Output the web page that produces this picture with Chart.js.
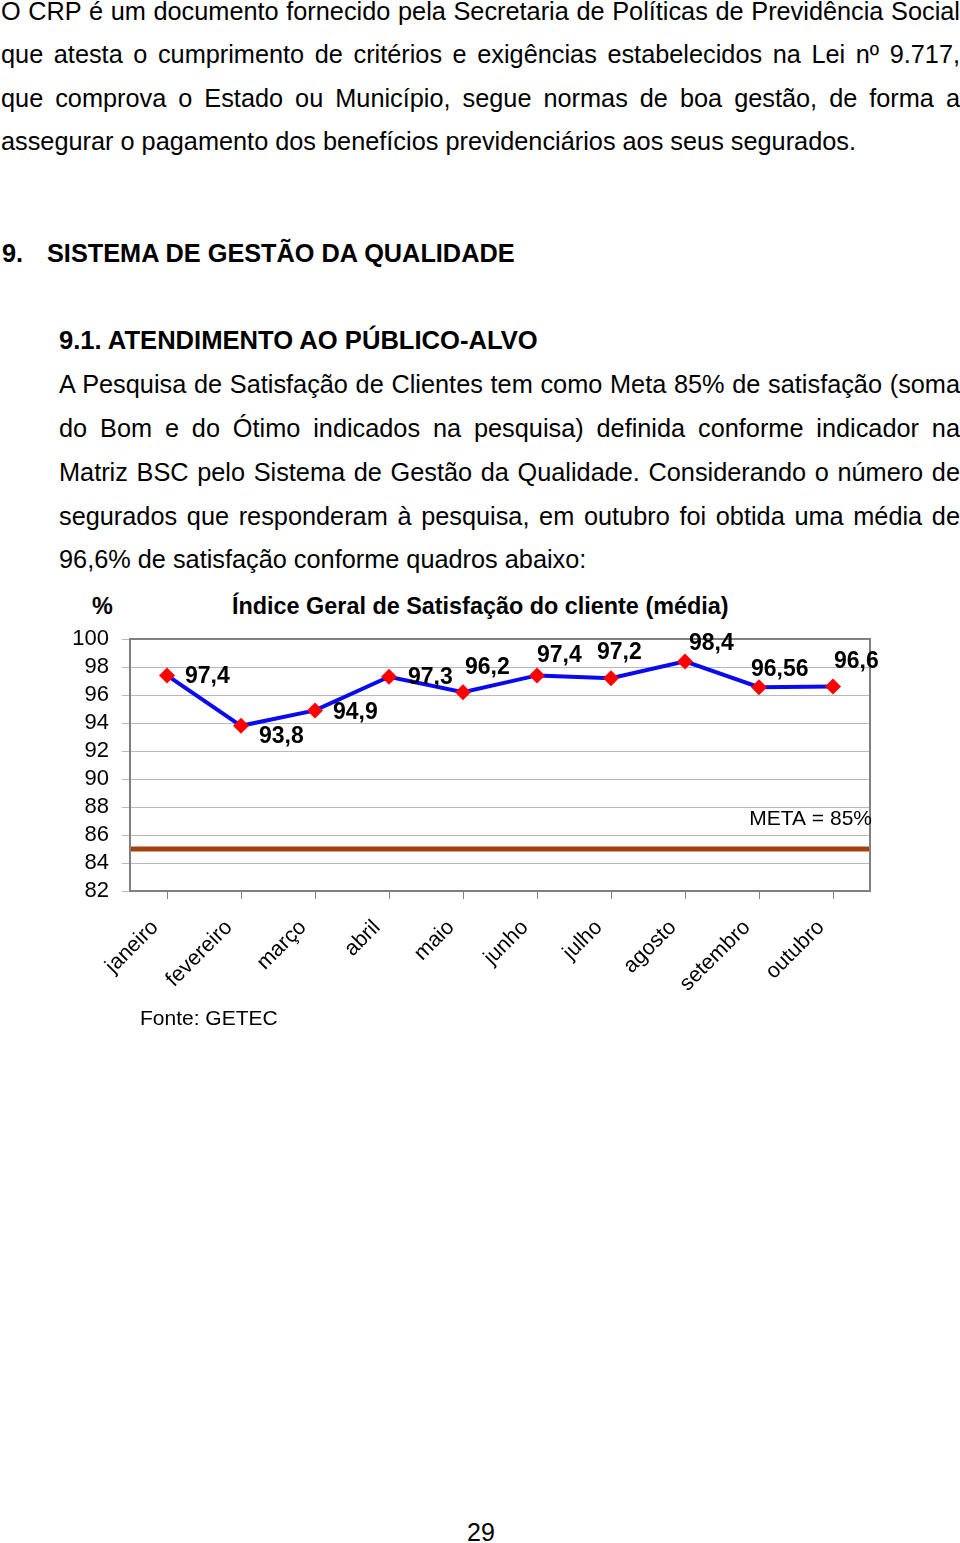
<!DOCTYPE html>
<html><head><meta charset="utf-8">
<script src="https://cdn.jsdelivr.net/npm/chart.js@4.4.1/dist/chart.umd.min.js"></script>
<style>
html,body{margin:0;padding:0;background:#fff;}
body{width:960px;height:1543px;position:relative;overflow:hidden;font-family:"Liberation Sans",Arial,sans-serif;color:#000;}
.t{position:absolute;white-space:nowrap;}
.p{position:absolute;font-size:25.3px;}
.p div{text-align:justify;text-align-last:justify;}
.p div.last{text-align:left;text-align-last:left;}
.b{font-weight:bold;}
canvas{position:absolute;left:0;top:580px;}
</style></head>
<body>
<div class="p" style="left:1px;top:-10px;width:959px;line-height:43.4px;">
<div>O CRP é um documento fornecido pela Secretaria de Políticas de Previdência Social</div>
<div>que atesta o cumprimento de critérios e exigências estabelecidos na Lei nº 9.717,</div>
<div>que comprova o Estado ou Município, segue normas de boa gestão, de forma a</div>
<div class="last">assegurar o pagamento dos benefícios previdenciários aos seus segurados.</div>
</div>
<div class="t b" style="left:2px;top:232.4px;font-size:25.3px;line-height:43.5px;">9.</div>
<div class="t b" style="left:47px;top:232.4px;font-size:25.3px;line-height:43.5px;">SISTEMA DE GESTÃO DA QUALIDADE</div>
<div class="t b" style="left:59px;top:319.4px;font-size:25.6px;line-height:43.5px;">9.1. ATENDIMENTO AO PÚBLICO-ALVO</div>
<div class="p" style="left:59px;top:363.4px;width:901px;line-height:43.75px;">
<div>A Pesquisa de Satisfação de Clientes tem como Meta 85% de satisfação (soma</div>
<div>do Bom e do Ótimo indicados na pesquisa) definida conforme indicador na</div>
<div>Matriz BSC pelo Sistema de Gestão da Qualidade. Considerando o número de</div>
<div>segurados que responderam à pesquisa, em outubro foi obtida uma média de</div>
<div class="last">96,6% de satisfação conforme quadros abaixo:</div>
</div>
<div class="t b" style="left:92px;top:594.5px;font-size:23.4px;line-height:23.4px;">%</div>
<div class="t b" style="left:232px;top:594.5px;font-size:23.4px;line-height:23.4px;">Índice Geral de Satisfação do cliente (média)</div>
<canvas id="c" width="960" height="440" style="width:960px;height:440px;"></canvas>
<div class="t" style="left:140px;top:1006.7px;font-size:21px;line-height:21px;">Fonte: GETEC</div>
<div class="t" style="left:467px;top:1519.8px;font-size:25px;line-height:25px;">29</div>
<script>
const months = ['janeiro','fevereiro','março','abril','maio','junho','julho','agosto','setembro','outubro'];
const satisfacao = [97.4, 93.8, 94.9, 97.3, 96.2, 97.4, 97.2, 98.4, 96.56, 96.6];
const meta = 85;
const metaLabel = 'META = 85%';
const yMin = 82, yMax = 100, yStep = 2;
// label placement offsets (dx, dy) relative to each point
const labelOffsets = [[18,1],[18,11],[18,2],[19,1],[2,-25],[0,-20],[-14,-26],[4,-18],[-8,-18],[1,-25]];

Chart.defaults.font.family = '"Liberation Sans", Arial, sans-serif';
Chart.defaults.color = '#000';

const extras = {
  id: 'extras',
  afterDatasetsDraw(chart) {
    const {ctx, chartArea: a, scales: {y}} = chart;
    ctx.save();
    ctx.strokeStyle = '#808080';
    ctx.lineWidth = 2;
    ctx.strokeRect(a.left, a.top, a.right - a.left, a.bottom - a.top);
    ctx.font = '21px "Liberation Sans", Arial, sans-serif';
    ctx.fillStyle = '#000';
    ctx.textAlign = 'right';
    ctx.textBaseline = 'middle';
    ctx.fillText(metaLabel, a.right + 2, y.getPixelForValue(meta) - 30);
    const pts = chart.getDatasetMeta(0).data;
    ctx.font = 'bold 23px "Liberation Sans", Arial, sans-serif';
    ctx.textAlign = 'left';
    pts.forEach((p, i) => {
      const o = labelOffsets[i];
      ctx.fillText(String(satisfacao[i]).replace('.', ','), p.x + o[0], p.y + o[1]);
    });
    ctx.restore();
  }
};

new Chart(document.getElementById('c'), {
  type: 'line',
  data: {
    labels: months,
    datasets: [
      {
        data: satisfacao,
        borderColor: '#0a0af0',
        borderWidth: 4,
        pointStyle: 'rectRot',
        pointRadius: 8,
        pointBackgroundColor: '#ff0000',
        pointBorderColor: '#ff0000',
        pointBorderWidth: 0,
        tension: 0,
        order: 1
      },
      {
        data: [{x: 0, y: meta}, {x: 1, y: meta}],
        xAxisID: 'x2',
        borderColor: '#a3420f',
        borderWidth: 5,
        pointRadius: 0,
        order: 2
      }
    ]
  },
  options: {
    responsive: false,
    animation: false,
    layout: {padding: {left: 0, right: 90, top: 59, bottom: 0}},
    plugins: {legend: {display: false}, tooltip: {enabled: false}, title: {display: false}},
    scales: {
      x: {
        type: 'category',
        offset: true,
        grid: {drawOnChartArea: false, tickLength: 8, color: '#808080', lineWidth: 1},
        border: {display: false},
        ticks: {minRotation: 45, maxRotation: 45, autoSkip: false, padding: 16, labelOffset: -12, color: '#000', font: {size: 21.5}},
        afterFit(s) { s.height = 129; }
      },
      x2: {type: 'linear', display: false, min: 0, max: 1},
      y: {
        min: yMin, max: yMax,
        ticks: {stepSize: yStep, autoSkip: false, padding: 13, color: '#000', font: {size: 22}},
        grid: {color: '#b8b8b8', lineWidth: 1, tickLength: 8},
        border: {display: false},
        afterFit(s) { s.width = 130; }
      }
    }
  },
  plugins: [extras]
});
</script>
</body></html>
